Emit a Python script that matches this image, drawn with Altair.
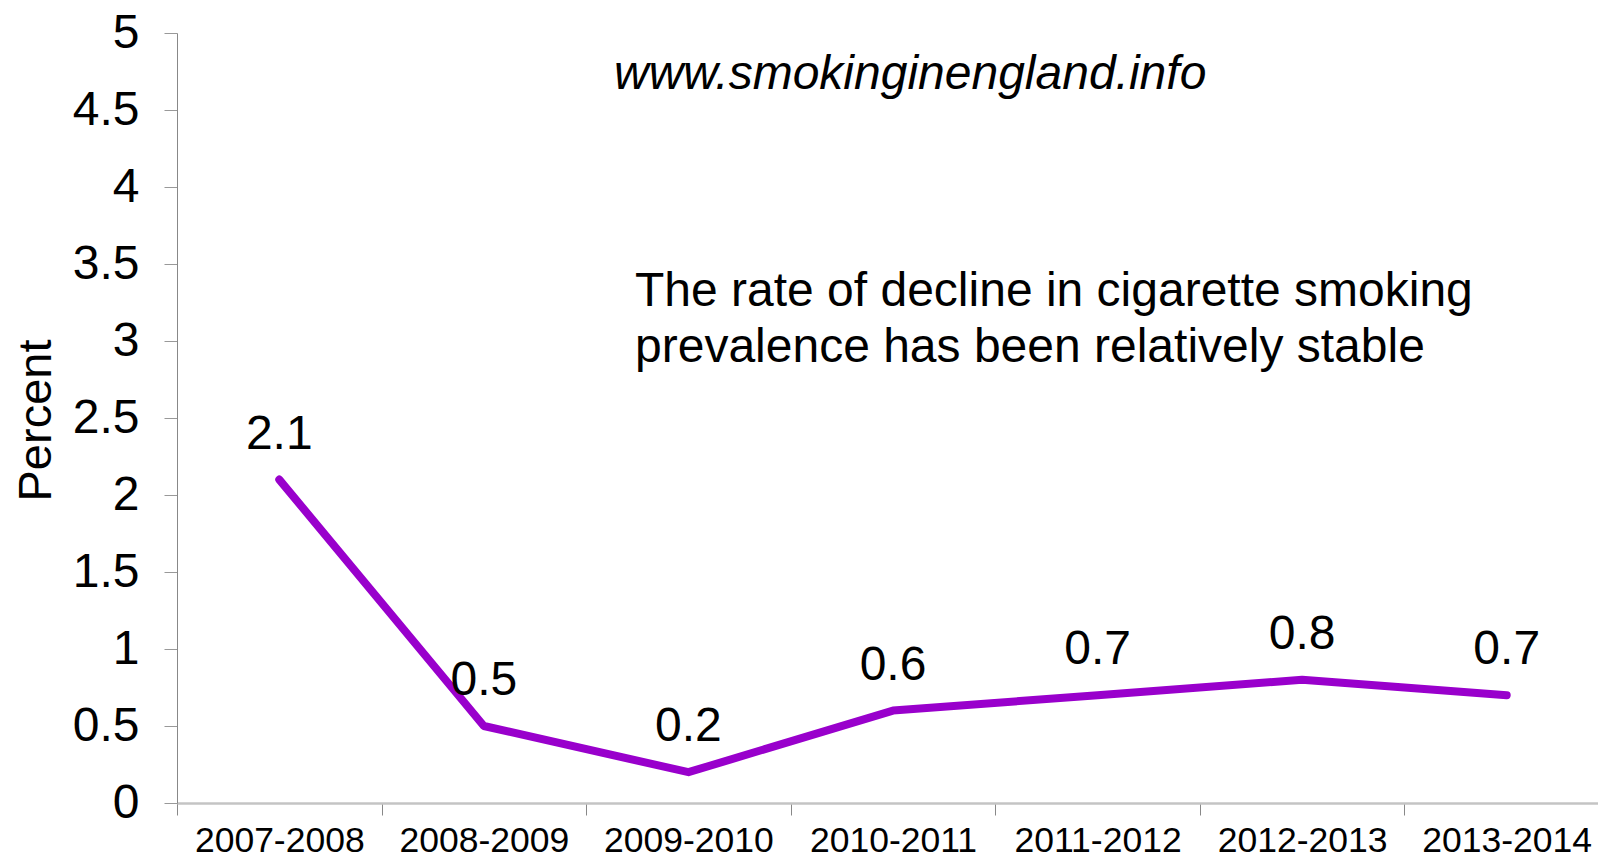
import altair as alt
import pandas as pd

periods = ["2007-2008", "2008-2009", "2009-2010", "2010-2011", "2011-2012", "2012-2013", "2013-2014"]
values = [2.1, 0.5, 0.2, 0.6, 0.7, 0.8, 0.7]
y_ticks = [0, 0.5, 1, 1.5, 2, 2.5, 3, 3.5, 4, 4.5, 5]
url_text = "www.smokinginengland.info"
note_lines = ["The rate of decline in cigarette smoking", "prevalence has been relatively stable"]

df = pd.DataFrame({"period": periods, "value": values})
FONT = "Liberation Sans"

x_scale = alt.Scale(type="band", paddingInner=0, paddingOuter=0, range=[0, 1432])
y_scale = alt.Scale(domain=[0, 5], nice=False, zero=True)

x_enc = alt.X(
    "period:N",
    sort=periods,
    bandPosition=0.5,
    scale=x_scale,
    axis=alt.Axis(
        title=None,
        labelFont=FONT,
        labelFontSize=35.5,
        labelColor="black",
        labelAngle=0,
        labelPadding=8,
        tickBand="extent",
        tickSize=12,
        tickColor="#888888",
        domainColor="#c4c4c4",
        domainWidth=2.5,
        grid=False,
        labelOverlap=False,
    ),
)
y_enc = alt.Y(
    "value:Q",
    scale=y_scale,
    axis=alt.Axis(
        title="Percent",
        values=y_ticks,
        format=".1~f",
        labelFont=FONT,
        labelFontSize=48,
        labelColor="black",
        labelPadding=25,
        tickSize=13,
        tickColor="#999999",
        domainColor="#888888",
        domainWidth=1,
        grid=False,
        titleFont=FONT,
        titleFontSize=47,
        titleFontWeight="normal",
        titleColor="black",
        titleAngle=-90,
        titleAlign="center",
        titleBaseline="middle",
        titleX=-141,
        titleY=387,
    ),
)

base = alt.Chart(df)
line = base.mark_line(color="#9900CC", strokeWidth=8, strokeCap="round", strokeJoin="round").encode(
    x=x_enc, y=y_enc
)
labels = base.mark_text(font=FONT, fontSize=48, color="black", dy=-45, baseline="middle").encode(
    x=x_enc,
    y=y_enc,
    text=alt.Text("value:Q", format=".1f"),
)
url = alt.Chart(pd.DataFrame({"t": [url_text]})).mark_text(
    font=FONT, fontSize=48, fontStyle="italic", color="black", align="left", baseline="middle"
).encode(x=alt.value(437), y=alt.value(42), text="t:N")
note = alt.Chart(pd.DataFrame({"t": [note_lines]})).mark_text(
    font=FONT, fontSize=48, color="black", align="left", baseline="middle", lineHeight=56
).encode(x=alt.value(458), y=alt.value(259), text="t")

chart = (
    alt.layer(line, labels, url, note)
    .properties(
        width=1421,
        height=770,
        background="white",
        autosize=alt.AutoSizeParams(type="none"),
        padding={"left": 169, "top": 25, "right": 0, "bottom": 61},
    )
    .configure_view(stroke="transparent", strokeWidth=0)
)

chart.save("out.html", embed_options={"renderer": "svg", "actions": False})
